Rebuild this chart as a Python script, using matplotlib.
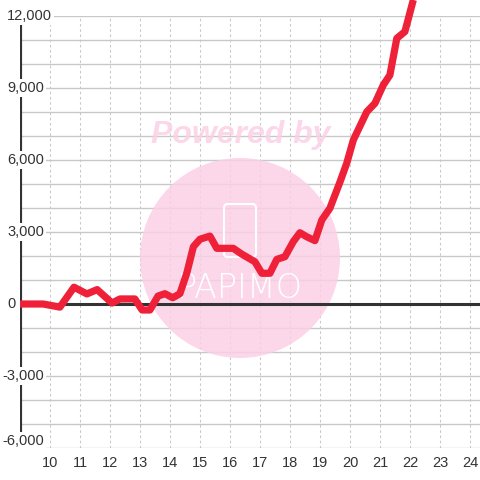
import matplotlib
matplotlib.use("Agg")
import matplotlib.pyplot as plt
from matplotlib.patches import Circle, FancyBboxPatch
from matplotlib.transforms import blended_transform_factory

plt.rcParams['font.family'] = ['Liberation Sans', 'DejaVu Sans']

# values
x_vals = [9.0, 9.77, 10.33, 10.8, 11.23, 11.57, 12.07, 12.33, 12.83, 13.07,
          13.33, 13.6, 13.83, 14.09, 14.33, 14.56, 14.78, 15.0, 15.33, 15.56,
          16.11, 16.39, 16.83, 17.06, 17.33, 17.56, 17.83, 18.11, 18.33, 18.56,
          18.83, 19.06, 19.33, 19.67, 19.89, 20.11, 20.56, 20.83, 21.11, 21.33,
          21.56, 21.83, 22.11]
y_vals = [0, 0, -130, 700, 420, 600, 40, 210, 210, -250,
          -250, 330, 430, 260, 430, 1290, 2390, 2700, 2830, 2320,
          2320, 2080, 1760, 1280, 1280, 1860, 1970, 2600, 2970, 2800,
          2640, 3500, 3990, 5100, 5860, 6830, 8010, 8360, 9125, 9540,
          11070, 11350, 12670]
x_ticks = list(range(10, 25))
y_ticks = [-6000, -3000, 0, 3000, 6000, 9000, 12000]
y_minor = range(-6000, 12001, 1000)

fig = plt.figure(figsize=(4.8, 4.8), dpi=100)
ax = fig.add_axes([20 / 480, 32 / 480, 460 / 480, 432 / 480])
ax.set_xlim(9.0, 24.333)
ax.set_ylim(-6000, 12000)
for s in ax.spines.values():
    s.set_visible(False)

# grid
for yv in y_minor:
    ax.axhline(yv, color='#c8c8c8', lw=1.0, zorder=1)
for xv in x_ticks:
    ax.axvline(xv, color='#c8c8c8', lw=0.75, linestyle=(0, (2.5, 2.5)), zorder=1)

# watermark
wm = '#fbd0e6'
ft = fig.transFigure
ax.add_patch(Circle((240 / 480, 1 - 258 / 480), 100 / 480, transform=ft,
                    facecolor=wm, edgecolor='none', alpha=0.85, zorder=2, clip_on=False))
ax.add_patch(FancyBboxPatch((224 / 480, 1 - 257 / 480), 32 / 480, 53 / 480,
                            boxstyle='round,pad=0,rounding_size=0.008', transform=ft,
                            facecolor='none', edgecolor='white', lw=1.5, zorder=2.1,
                            clip_on=False))
ax.text(240 / 480, 1 - 289 / 480, 'PAPIMO', transform=ft, color='white', fontsize=24,
        ha='center', va='center', family='DejaVu Sans', fontweight='light', zorder=2.1)
ax.text(241 / 480, 1 - 135 / 480, 'Powered by', transform=ft, color=wm, alpha=0.85,
        fontsize=23, fontweight='bold', style='italic', ha='center', va='center', zorder=2)

# axes lines
ax.axhline(0, color='#333333', lw=2.2, zorder=3)
ax.axvline(9.0, ymin=(448 - 438) / 432, ymax=(448 - 24) / 432, color='#333333', lw=3, zorder=3)

ax.plot(x_vals, y_vals, color='#ee2139', lw=5.2, solid_joinstyle='round',
        solid_capstyle='butt', clip_on=False, zorder=4)

ax.set_xticks(x_ticks)
ax.set_xticklabels([str(v) for v in x_ticks])
ax.set_yticks([])
ax.tick_params(axis='x', length=0, pad=6, labelsize=10.5, labelcolor='#333333')

tr = blended_transform_factory(fig.transFigure, ax.transData)
for yv in y_ticks:
    xpos = 7 / 480 if yv >= 0 else 2 / 480
    va = 'bottom' if yv == -6000 else 'center'
    ax.text(xpos, yv, f'{yv:,}', transform=tr, ha='left', va=va, fontsize=10.5,
            color='#333333', zorder=5,
            bbox=dict(facecolor='white', edgecolor='none', pad=1.5))

fig.savefig('out.png', dpi=100)
